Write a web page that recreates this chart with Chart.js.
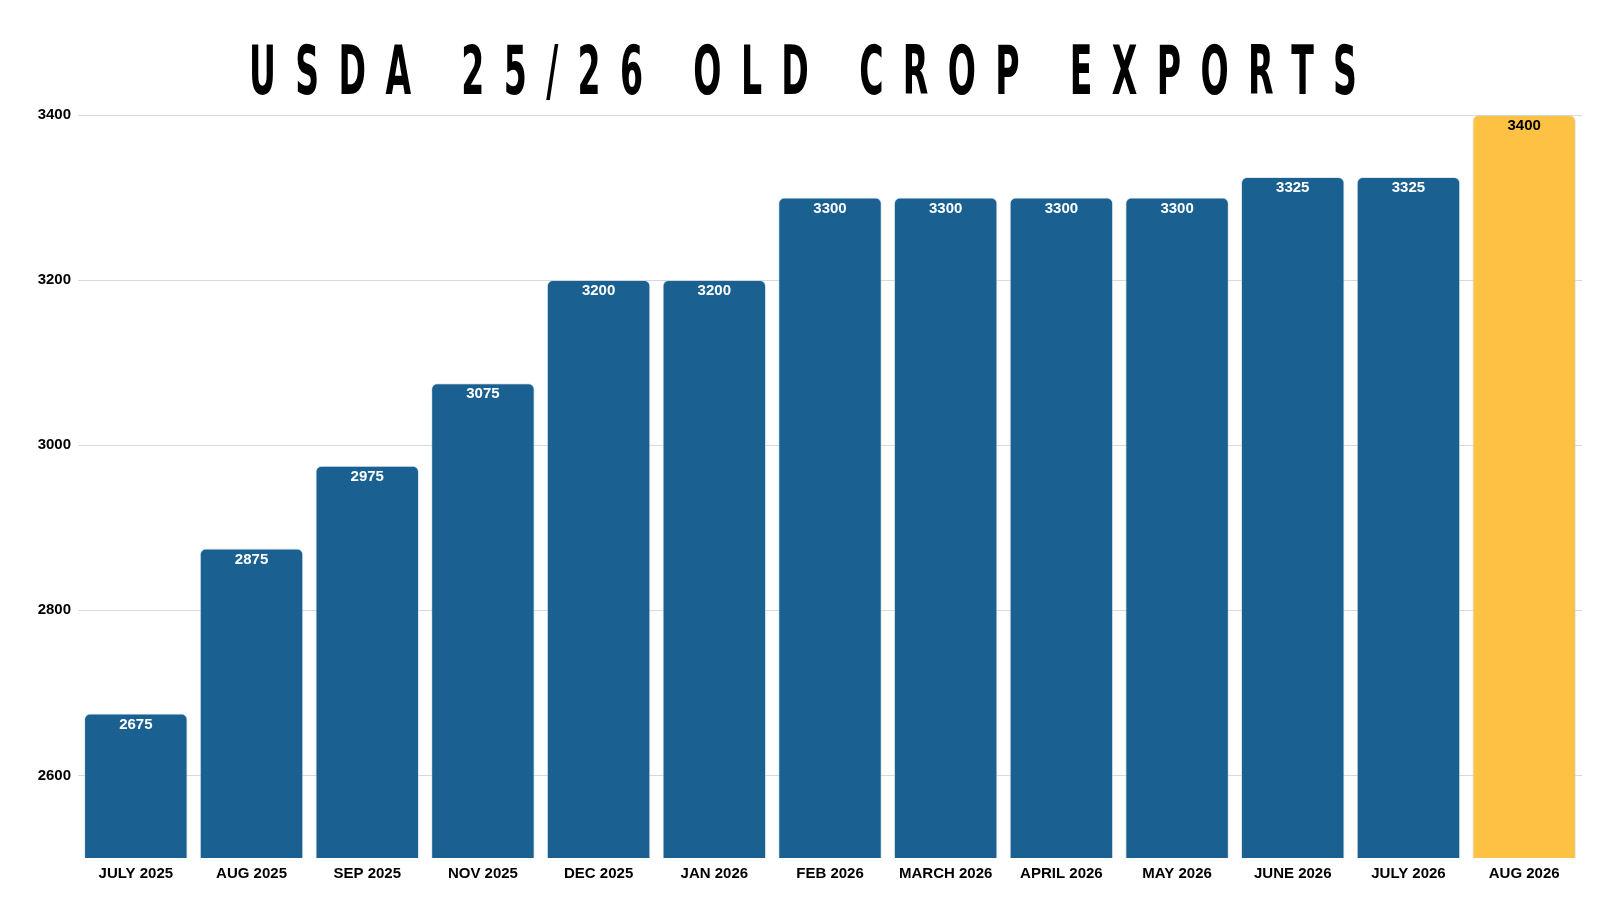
<!DOCTYPE html>
<html>
<head>
<meta charset="utf-8">
<script src="https://cdn.jsdelivr.net/npm/chart.js@4/dist/chart.umd.min.js"></script>
<style>
  html, body { margin: 0; padding: 0; background: #fff; }
  #wrap { position: relative; width: 1600px; height: 900px; }
  #title {
    position: absolute; left: 249px; top: 38px; white-space: nowrap;
    font-family: "DejaVu Sans Condensed", "DejaVu Sans", sans-serif;
    font-weight: 700; font-size: 67px; line-height: 67px; color: #000;
    transform-origin: 0 0; z-index: 2;
  }
  canvas { position: absolute; left: 0; top: 0; }
</style>
</head>
<body>
<div id="wrap">
  <div id="title">USDA 25/26 OLD CROP EXPORTS</div>
  <canvas id="myChart" width="1600" height="900"></canvas>
</div>
<script>
const months = ["JULY 2025", "AUG 2025", "SEP 2025", "NOV 2025", "DEC 2025", "JAN 2026",
  "FEB 2026", "MARCH 2026", "APRIL 2026", "MAY 2026", "JUNE 2026", "JULY 2026", "AUG 2026"];
const exportsEst = [2675, 2875, 2975, 3075, 3200, 3200, 3300, 3300, 3300, 3300, 3325, 3325, 3400];
const yTicks = [2600, 2800, 3000, 3200, 3400];

const blue = "#1a6191";
const yellow = "#fdc244";
const barColors = exportsEst.map((v, i) => i === exportsEst.length - 1 ? yellow : blue);
const labelColors = exportsEst.map((v, i) => i === exportsEst.length - 1 ? "#000" : "#fff");

// squeeze the title into a tall, narrow, widely spaced look
(function fitTitle() {
  const el = document.getElementById('title');
  const text = el.textContent;
  const c = document.createElement('canvas').getContext('2d');
  c.font = "bold 67px 'DejaVu Sans Condensed', 'DejaVu Sans', sans-serif";
  const natural = c.measureText(text).width;
  const squeeze = 0.55;
  const targetWidth = 1108;
  const spacing = (targetWidth / squeeze - natural) / (text.length - 1);
  el.style.letterSpacing = spacing + "px";
  el.style.transform = "scaleX(" + squeeze + ")";
})();

// value labels near the top of each bar
const barLabels = {
  id: "barLabels",
  afterDatasetsDraw(chart) {
    const ctx = chart.ctx;
    const meta = chart.getDatasetMeta(0);
    ctx.save();
    ctx.font = "bold 15px 'Liberation Sans', Arial, sans-serif";
    ctx.textAlign = "center";
    ctx.textBaseline = "middle";
    meta.data.forEach((bar, i) => {
      ctx.fillStyle = labelColors[i];
      ctx.fillText(String(exportsEst[i]), bar.x, bar.y + 11);
    });
    ctx.restore();
  }
};

Chart.defaults.font.family = "'Liberation Sans', Arial, sans-serif";
Chart.defaults.color = "#000";

const ctx = document.getElementById('myChart').getContext('2d');
const myChart = new Chart(ctx, {
  type: 'bar',
  data: {
    labels: months,
    datasets: [{
      data: exportsEst,
      backgroundColor: barColors,
      borderColor: "rgba(200,215,230,0.6)",
      borderWidth: 1,
      borderSkipped: 'bottom',
      borderRadius: 6,
      barPercentage: 0.895,
      categoryPercentage: 1.0
    }]
  },
  options: {
    responsive: false,
    animation: false,
    layout: { padding: { top: 115, right: 18, bottom: 0, left: 0 } },
    plugins: {
      legend: { display: false },
      tooltip: { enabled: false }
    },
    scales: {
      x: {
        grid: { display: false, drawTicks: false },
        border: { display: false },
        ticks: { font: { size: 15, weight: 'bold' }, padding: 7, maxRotation: 0, autoSkip: false },
        afterFit: (scale) => { scale.height = 42; }
      },
      y: {
        min: 2500,
        max: 3400,
        afterBuildTicks: (scale) => { scale.ticks = yTicks.map(v => ({ value: v })); },
        grid: { color: "#d9d9d9", lineWidth: 1, drawTicks: false },
        border: { display: false },
        ticks: { font: { size: 15, weight: 'bold' }, padding: 7, callback: (v) => String(v) },
        afterFit: (scale) => { scale.width = 78; }
      }
    }
  },
  plugins: [barLabels]
});
</script>
</body>
</html>
